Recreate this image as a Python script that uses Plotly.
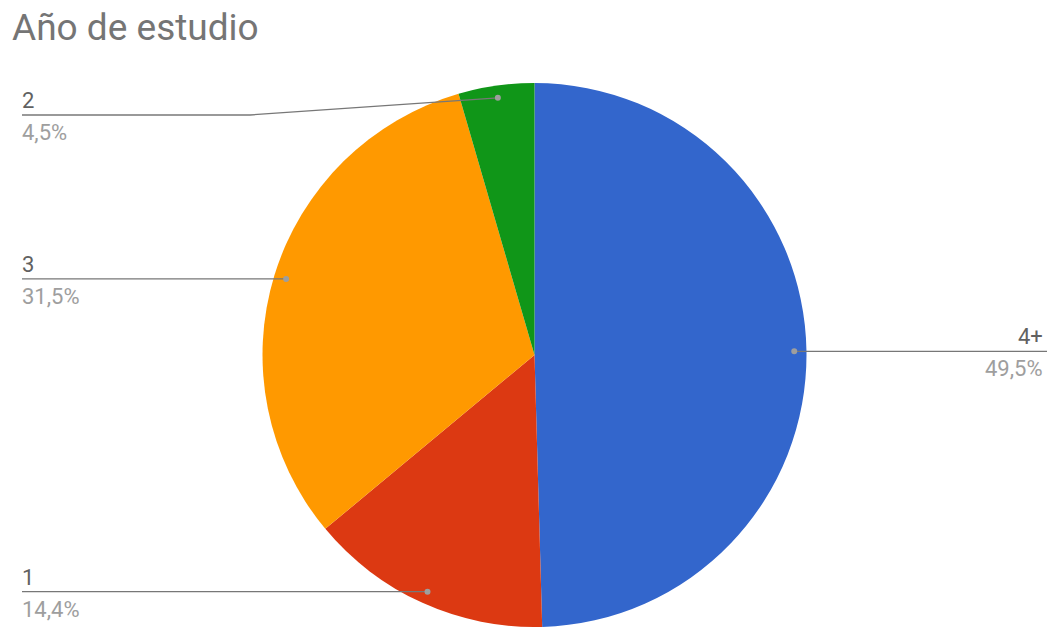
import math
import plotly.graph_objects as go

# Distribution of students by year of study
categories = ["4+", "1", "3", "2"]
shares = [49.5, 14.4, 31.5, 4.5]
share_labels = ["49,5%", "14,4%", "31,5%", "4,5%"]
colors = ["#3366cc", "#dc3912", "#ff9900", "#109618"]

W, H = 1048, 627

# Pie geometry in pixels
CX, TOP = 534.5, 83
R = (H - TOP) / 2.0
CY = TOP + R


def px(x):
    return x / W


def py(y):
    return 1 - y / H


fig = go.Figure(
    go.Pie(
        labels=categories,
        values=shares,
        sort=False,
        direction="clockwise",
        rotation=0,
        marker=dict(colors=colors, line=dict(width=0)),
        textinfo="none",
        hoverinfo="label+percent",
        showlegend=False,
        domain=dict(x=[px(CX - R), px(CX + R)], y=[0, py(TOP)]),
    )
)

shapes = []
annotations = []

# Leader lines: left side labels start at x=22, right side end at the edge
LEFT_X, RIGHT_X = 22, 1047
# the smallest slice's label is dropped below the top so it clears the title
bend_y = {"2": 115}
bend_x = {"2": 250}

total = sum(shares)
start = 0.0
for name, val, lab in zip(categories, shares, share_labels):
    mid = (start + val / 2) / total * 2 * math.pi
    start += val
    dx = CX + 0.955 * R * math.sin(mid)
    dy = CY - 0.955 * R * math.cos(mid)
    right = math.sin(mid) > 0
    ly = bend_y.get(name, dy)
    line_col = "#777777"
    if name in bend_x:
        bx = bend_x[name]
        shapes.append(dict(type="line", xref="paper", yref="paper",
                           x0=px(dx), y0=py(dy), x1=px(bx), y1=py(ly),
                           line=dict(color=line_col, width=1.3)))
        shapes.append(dict(type="line", xref="paper", yref="paper",
                           x0=px(bx), y0=py(ly), x1=px(LEFT_X), y1=py(ly),
                           line=dict(color=line_col, width=1.3)))
    else:
        end_x = RIGHT_X if right else LEFT_X
        shapes.append(dict(type="line", xref="paper", yref="paper",
                           x0=px(dx), y0=py(dy), x1=px(end_x), y1=py(ly),
                           line=dict(color=line_col, width=1.3)))
    # dot at the slice end of the leader line
    shapes.append(dict(type="circle", xref="paper", yref="paper",
                       x0=px(dx - 3), x1=px(dx + 3), y0=py(dy + 3), y1=py(dy - 3),
                       fillcolor="#9e9e9e", line=dict(width=0)))
    tx = RIGHT_X if right else LEFT_X
    anchor = "right" if right else "left"
    annotations.append(dict(text=name, xref="paper", yref="paper",
                            x=px(tx), y=py(ly), xanchor=anchor, yanchor="bottom",
                            xshift=-2,
                            showarrow=False,
                            font=dict(family="Roboto", size=22, color="#616161")))
    annotations.append(dict(text=lab, xref="paper", yref="paper",
                            x=px(tx), y=py(ly + 3), xanchor=anchor, yanchor="top",
                            xshift=-2,
                            showarrow=False,
                            font=dict(family="Roboto", size=22, color="#9e9e9e")))

annotations.append(dict(text="Año de estudio", xref="paper", yref="paper",
                        x=px(10), y=py(4), xanchor="left", yanchor="top",
                        showarrow=False,
                        font=dict(family="Roboto", size=37, color="#757575")))

fig.update_layout(
    width=W, height=H,
    margin=dict(l=0, r=0, t=0, b=0),
    paper_bgcolor="white",
    plot_bgcolor="white",
    shapes=shapes,
    annotations=annotations,
)

fig.write_html("out.html")
